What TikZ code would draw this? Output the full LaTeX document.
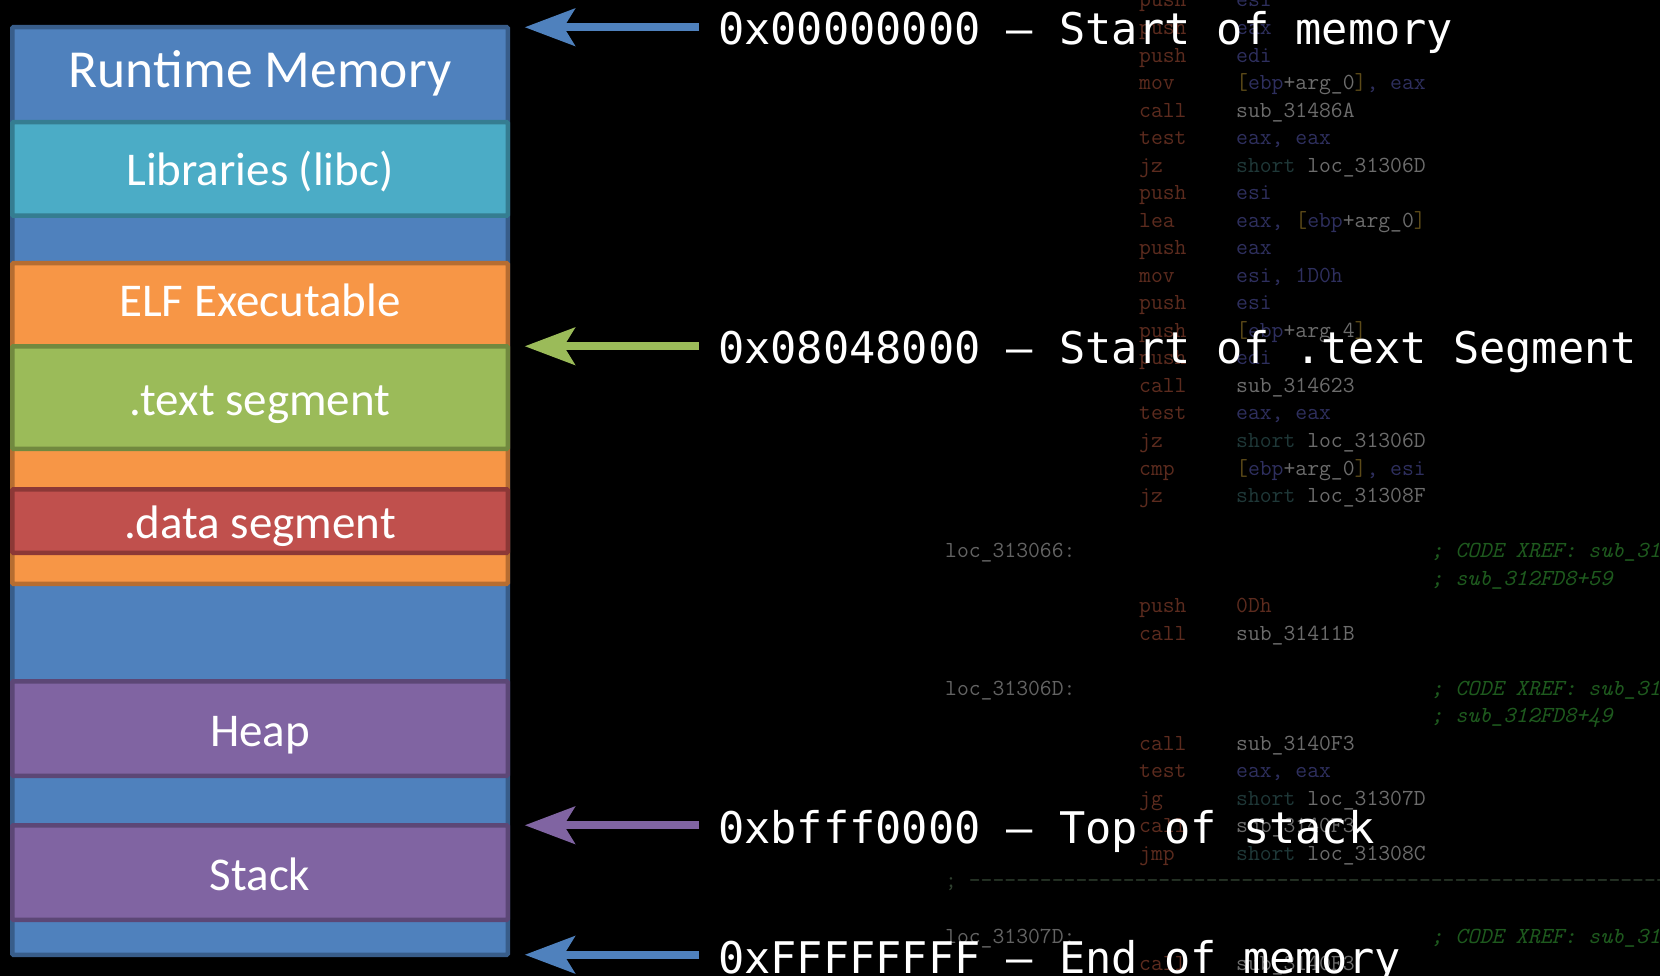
\documentclass[tikz,border=0pt]{standalone}
\usepackage{fontspec}
\usetikzlibrary{arrows.meta}
\newfontfamily\boxfont{Carlito}
\newfontfamily\addrfont{DejaVu Sans Mono}

% segment colours (fill / border)
\definecolor{memBlue}{HTML}{4F81BD}
\definecolor{memBlueD}{HTML}{385D8A}
\definecolor{libTeal}{HTML}{4BACC6}
\definecolor{libTealD}{HTML}{357D91}
\definecolor{elfOrange}{HTML}{F79646}
\definecolor{elfOrangeD}{HTML}{B66D31}
\definecolor{txtGreen}{HTML}{9BBB59}
\definecolor{txtGreenD}{HTML}{71893F}
\definecolor{datRed}{HTML}{C0504D}
\definecolor{datRedD}{HTML}{8C3836}
\definecolor{stkPurple}{HTML}{8064A2}
\definecolor{stkPurpleD}{HTML}{5C4776}

% disassembly listing colours
\definecolor{asmKw}{HTML}{5C2B1E}
\definecolor{asmReg}{HTML}{2E2F5E}
\definecolor{asmName}{HTML}{6C6C6C}
\definecolor{asmShort}{HTML}{1F3838}
\definecolor{asmBrk}{HTML}{5C4A18}
\definecolor{asmCom}{HTML}{1E5A1E}
\definecolor{asmLab}{HTML}{636363}
\definecolor{asmRule}{HTML}{2F402F}

\newcommand\asR[1]{\textcolor{asmReg}{#1}}
\newcommand\asS[1]{\textcolor{asmShort}{#1}}
\newcommand\asB[1]{\textcolor{asmBrk}{#1}}
\newcommand\asK[1]{\textcolor{asmKw}{#1}}

\newcommand\asmrow[3]{%
  \node[asm, text=asmKw] (mn#1) at (1139,{27.53*#1+7}) {#2};
  \node[asm, text=asmName] (op#1) at (1236,{27.53*#1+7}) {#3};}
\newcommand\asmlabel[2]{%
  \node[asm, text=asmLab] (lb#1) at (945,{27.53*#1+7}) {#2};}
\newcommand\asmnote[2]{%
  \node[asm, text=asmCom, font=\ttfamily\itshape\fontsize{23}{23}\selectfont] (cm#1) at (1431,{27.53*#1+7}) {#2};}

\begin{document}
\begin{tikzpicture}[x=1pt, y=-1pt,
  seg/.style={draw, line width=4.5pt, minimum width=495.5pt, inner sep=0pt,
    outer sep=0pt, rounded corners=1pt},
  seglabel/.style={text=white, anchor=base, inner sep=0pt,
    font=\boxfont\fontsize{47}{47}\selectfont},
  addr/.style={text=white, anchor=base west, inner sep=0pt,
    font=\addrfont\fontsize{43.6}{44}\selectfont},
  addrarrow/.style={line width=8pt,
    -{Stealth[length=50pt, width=37pt, inset=11pt]}, shorten <=19pt},
  asm/.style={anchor=base west, inner sep=0pt,
    font=\ttfamily\fontsize{23}{23}\selectfont},
]
\useasboundingbox (0,0) rectangle (1660,976);
\clip (0,0) rectangle (1660,976);
\fill[black] (0,0) rectangle (1660,976);

% ---- disassembly listing in the background ----
\asmrow{0}{push}{\asR{esi}}
\asmrow{1}{push}{\asR{eax}}
\asmrow{2}{push}{\asR{edi}}
\asmrow{3}{mov}{\asB{[}\asR{ebp}+arg\_0\asB{]}\asR{, eax}}
\asmrow{4}{call}{sub\_31486A}
\asmrow{5}{test}{\asR{eax, eax}}
\asmrow{6}{jz}{\asS{short} loc\_31306D}
\asmrow{7}{push}{\asR{esi}}
\asmrow{8}{lea}{\asR{eax, }\asB{[}\asR{ebp}+arg\_0\asB{]}}
\asmrow{9}{push}{\asR{eax}}
\asmrow{10}{mov}{\asR{esi, 1D0h}}
\asmrow{11}{push}{\asR{esi}}
\asmrow{12}{push}{\asB{[}\asR{ebp}+arg\_4\asB{]}}
\asmrow{13}{push}{\asR{edi}}
\asmrow{14}{call}{sub\_314623}
\asmrow{15}{test}{\asR{eax, eax}}
\asmrow{16}{jz}{\asS{short} loc\_31306D}
\asmrow{17}{cmp}{\asB{[}\asR{ebp}+arg\_0\asB{]}\asR{, esi}}
\asmrow{18}{jz}{\asS{short} loc\_31308F}
\asmlabel{20}{loc\_313066:}
\asmnote{20}{; CODE XREF: sub\_31}
\asmnote{21}{; sub\_312FD8+59}
\asmrow{22}{push}{\asK{0Dh}}
\asmrow{23}{call}{sub\_31411B}
\asmlabel{25}{loc\_31306D:}
\asmnote{25}{; CODE XREF: sub\_31}
\asmnote{26}{; sub\_312FD8+49}
\asmrow{27}{call}{sub\_3140F3}
\asmrow{28}{test}{\asR{eax, eax}}
\asmrow{29}{jg}{\asS{short} loc\_31307D}
\asmrow{30}{call}{sub\_3140F3}
\asmrow{31}{jmp}{\asS{short} loc\_31308C}
\node[asm, text=asmRule] (rule32) at (945,{27.53*32+7})
  {; -{}-{}-{}-{}-{}-{}-{}-{}-{}-{}-{}-{}-{}-{}-{}-{}-{}-{}-{}-{}-{}-{}-{}-{}-{}-{}-{}-{}-{}-{}-{}-{}-{}-{}-{}-{}-{}-{}-{}-{}-{}-{}-{}-{}-{}-{}-{}-{}-{}-{}-{}-{}-{}-{}-{}-{}-{}-{}-{}-{}};
\asmlabel{34}{loc\_31307D:}
\asmnote{34}{; CODE XREF: sub\_31}
\asmrow{35}{call}{sub\_3140F3}

% ---- memory layout column ----
\node[seg, fill=memBlue, draw=memBlueD, minimum height=927.5pt] (mem) at (260,491) {};
\node[seg, fill=libTeal, draw=libTealD, minimum height=93.5pt] (lib) at (260,169) {};
\node[seg, fill=elfOrange, draw=elfOrangeD, minimum height=320.5pt] (elf) at (260,423.5) {};
\node[seg, fill=txtGreen, draw=txtGreenD, minimum height=102.5pt] (txt) at (260,397.5) {};
\node[seg, fill=datRed, draw=datRedD, minimum height=63.5pt] (dat) at (260,521) {};
\node[seg, fill=stkPurple, draw=stkPurpleD, minimum height=94.5pt] (heap) at (260,728.5) {};
\node[seg, fill=stkPurple, draw=stkPurpleD, minimum height=94.5pt] (stack) at (260,872.5) {};

\node[seglabel, font=\boxfont\fontsize{53.5}{53.5}\selectfont] (tmem) at (260,87.3) {Runtime Memory};
\node[seglabel] (tlib) at (260,186) {Libraries (libc)};
\node[seglabel] (telf) at (260,316.7) {ELF Executable};
\node[seglabel] (ttxt) at (260,415.7) {.text segment};
\node[seglabel] (tdat) at (260,538) {.data segment};
\node[seglabel] (theap) at (260,746.7) {Heap};
\node[seglabel] (tstack) at (260,890) {Stack};

% ---- address labels and arrows ----
\node[addr] (a1) at (718,45) {0x00000000 – Start of memory};
\node[addr] (a2) at (718,363) {0x08048000 – Start of .text Segment};
\node[addr] (a3) at (718,843) {0xbfff0000 – Top of stack};
\node[addr] (a4) at (718,973) {0xFFFFFFFF – End of memory};

\draw[addrarrow, draw=memBlue, fill=memBlue] (a1.west |- mem.north east) -- ([xshift=17pt]mem.north east);
\draw[addrarrow, draw=txtGreen, fill=txtGreen] (a2.west |- txt.north east) -- ([xshift=17pt]txt.north east);
\draw[addrarrow, draw=stkPurple, fill=stkPurple] (a3.west |- stack.north east) -- ([xshift=17pt]stack.north east);
\draw[addrarrow, draw=memBlue, fill=memBlue] (a4.west |- mem.south east) -- ([xshift=17pt]mem.south east);
\end{tikzpicture}
\end{document}
